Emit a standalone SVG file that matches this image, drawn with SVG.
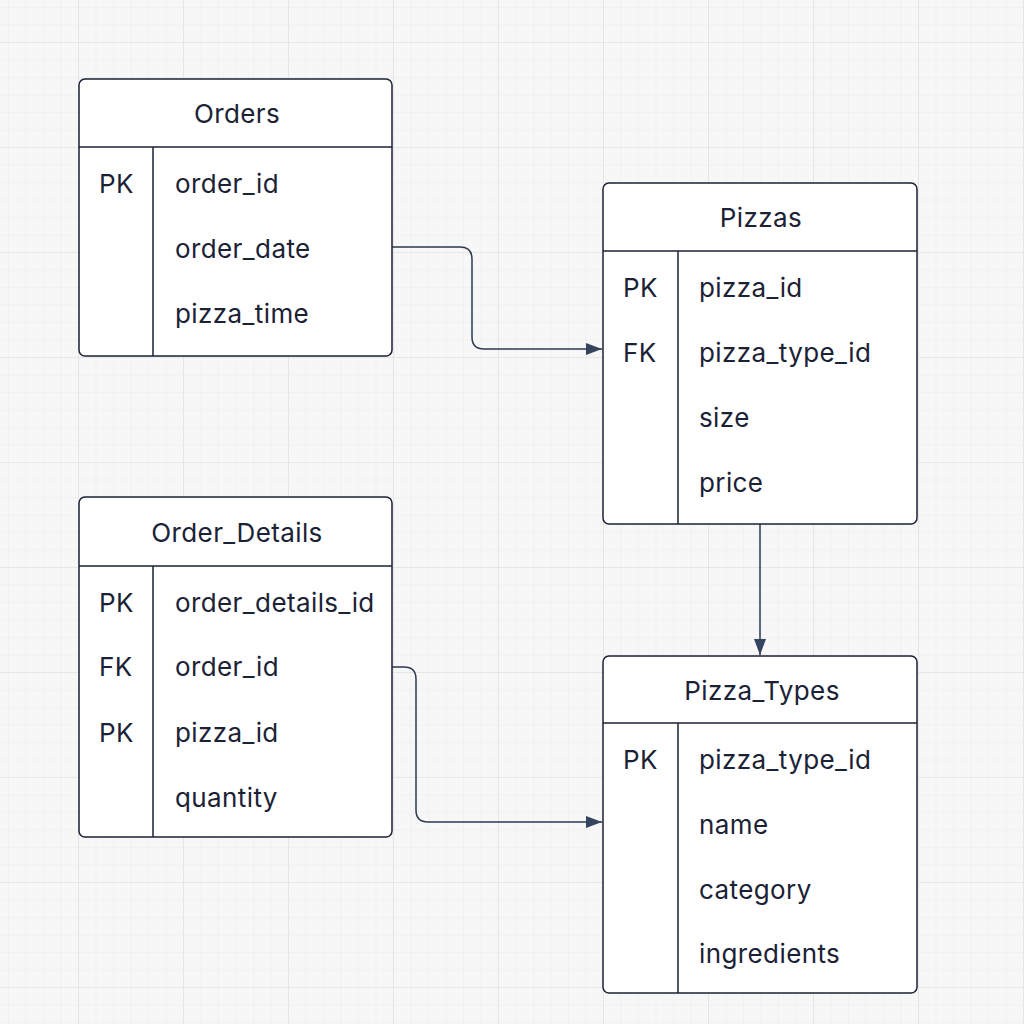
<svg xmlns="http://www.w3.org/2000/svg" width="1024" height="1024" viewBox="0 0 1024 1024">
<defs>
<pattern id="minor" width="17.5" height="17.5" patternUnits="userSpaceOnUse" x="78" y="42">
<path d="M0 0V17.5M0 0H17.5" fill="none" stroke="#ececec" stroke-width="1"/>
</pattern>
<pattern id="major" width="105" height="105" patternUnits="userSpaceOnUse" x="78" y="42">
<path d="M0 0V105M0 0H105" fill="none" stroke="#dedede" stroke-width="1.2"/>
</pattern>
<marker id="arrow" viewBox="0 0 16 12" refX="16" refY="6" markerWidth="16" markerHeight="12" markerUnits="userSpaceOnUse" orient="auto">
<path d="M0 0L16 6L0 12Z" fill="#34445e"/>
</marker>
</defs>
<style>
.box{fill:#ffffff;stroke:#1b2236;stroke-width:1.5}
.ln{stroke:#1b2236;stroke-width:1.5;fill:none}
.t{font-family:Inter,"Noto Sans","Liberation Sans",sans-serif;font-size:26px;letter-spacing:0.4px;fill:#1b2236}
.c{text-anchor:middle}
.conn{fill:none;stroke:#2e3a50;stroke-width:1.5}
</style>
<rect width="1024" height="1024" fill="#f7f7f7"/>
<rect width="1024" height="1024" fill="url(#minor)"/>
<rect width="1024" height="1024" fill="url(#major)"/>

<g id="connectors">
<path class="conn" d="M392 247H460Q472 247 472 259V337Q472 349 484 349H602" marker-end="url(#arrow)"/>
<path class="conn" d="M392 667H404Q416 667 416 679V810Q416 822 428 822H602" marker-end="url(#arrow)"/>
<path class="conn" d="M760 524V655" marker-end="url(#arrow)"/>
</g>

<g id="orders">
<rect class="box" x="79" y="79" width="313" height="277" rx="6"/>
<path class="ln" d="M79 147H392M153 147V356"/>
<text class="t c" x="237" y="123">Orders</text>
<text class="t" x="99" y="193">PK</text>
<text class="t" x="175" y="193">order_id</text>
<text class="t" x="175" y="258">order_date</text>
<text class="t" x="175" y="323">pizza_time</text>
</g>

<g id="pizzas">
<rect class="box" x="603" y="183" width="314" height="341" rx="6"/>
<path class="ln" d="M603 251H917M678 251V524"/>
<text class="t c" x="761" y="227">Pizzas</text>
<text class="t" x="623" y="297">PK</text>
<text class="t" x="699" y="297">pizza_id</text>
<text class="t" x="623" y="362">FK</text>
<text class="t" x="699" y="362">pizza_type_id</text>
<text class="t" x="699" y="427">size</text>
<text class="t" x="699" y="492">price</text>
</g>

<g id="order_details">
<rect class="box" x="79" y="497" width="313" height="340" rx="6"/>
<path class="ln" d="M79 566H392M153 566V837"/>
<text class="t c" x="237" y="542">Order_Details</text>
<text class="t" x="99" y="612">PK</text>
<text class="t" x="175" y="612">order_details_id</text>
<text class="t" x="99" y="676">FK</text>
<text class="t" x="175" y="676">order_id</text>
<text class="t" x="99" y="742">PK</text>
<text class="t" x="175" y="742">pizza_id</text>
<text class="t" x="175" y="807">quantity</text>
</g>

<g id="pizza_types">
<rect class="box" x="603" y="656" width="314" height="337" rx="6"/>
<path class="ln" d="M603 723H917M678 723V993"/>
<text class="t c" x="762" y="700">Pizza_Types</text>
<text class="t" x="623" y="769">PK</text>
<text class="t" x="699" y="769">pizza_type_id</text>
<text class="t" x="699" y="834">name</text>
<text class="t" x="699" y="899">category</text>
<text class="t" x="699" y="963">ingredients</text>
</g>
</svg>
